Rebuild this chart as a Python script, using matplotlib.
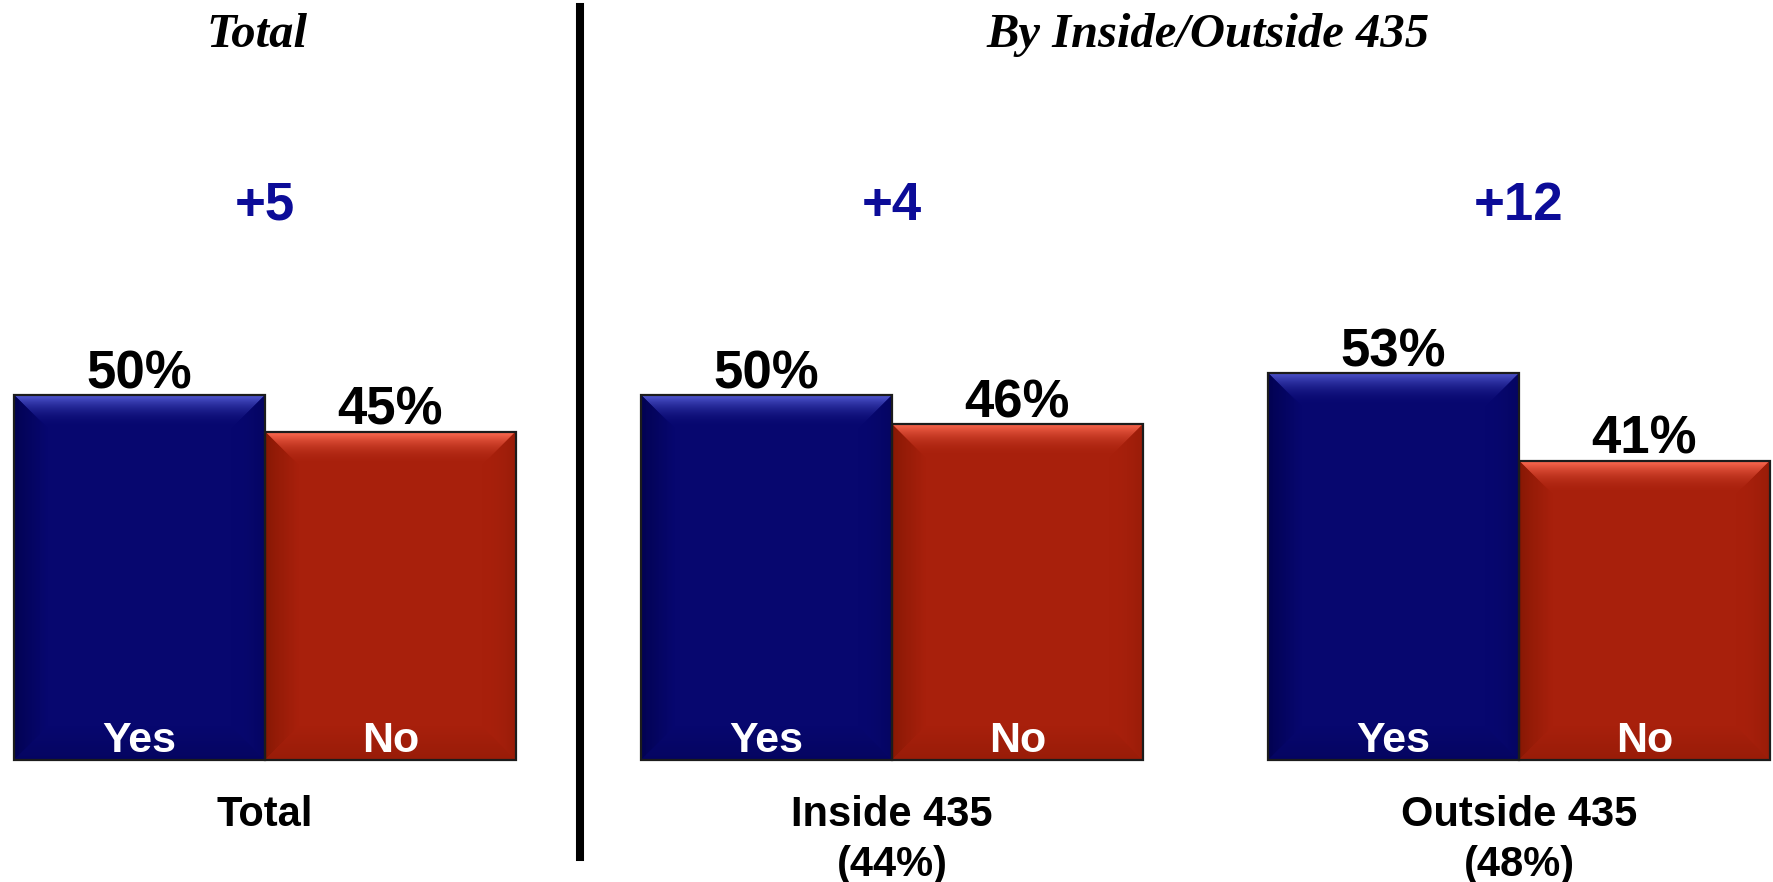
import numpy as np
import matplotlib
matplotlib.use('Agg')
import matplotlib.pyplot as plt
from matplotlib.patches import Polygon
from matplotlib.colors import to_rgb

# ---- data ----
groups = ['Total', 'Inside 435\n(44%)', 'Outside 435\n(48%)']
yes_vals = [50, 50, 53]
no_vals = [45, 46, 41]
diff_labels = ['+5', '+4', '+12']
series_names = ['Yes', 'No']
section_titles = ['Total', 'By Inside/Outside 435']

# ---- style ----
BLUE, BLUE_HI, BLUE_DK = '#07076f', '#5259d2', '#020250'
RED, RED_HI, RED_DK = '#a8200c', '#ff6b52', '#861804'
SANS = 'Liberation Sans'
SERIF = 'Liberation Serif'

fig = plt.figure(figsize=(17.73, 8.82), dpi=100)
ax = fig.add_axes([0, 0, 1, 1])
XLIM = (-0.4226, 2.405)
YLIM = (-16.71, 104.11)
ax.set_xlim(*XLIM)
ax.set_ylim(*YLIM)
ax.axis('off')

x = np.arange(len(groups))
w = 0.4
yes_bars = ax.bar(x - w / 2, yes_vals, w, color=BLUE, edgecolor='none', zorder=2)
no_bars = ax.bar(x + w / 2, no_vals, w, color=RED, edgecolor='none', zorder=2)


def mix(c1, c2, t):
    a = np.array(to_rgb(c1))
    b = np.array(to_rgb(c2))
    return tuple(a * (1 - t) + b * t)


def grad_img(c_from, c_to, n=64, power=1.0, vertical=True):
    a = np.array(to_rgb(c_from))
    b = np.array(to_rgb(c_to))
    t = np.linspace(0, 1, n) ** power
    cols = a[None, :] * (1 - t[:, None]) + b[None, :] * t[:, None]
    rgba = np.concatenate([cols, np.ones((n, 1))], axis=1)
    if vertical:
        return rgba[:, None, :]
    return rgba[None, :, :]


def bevel(bar, base, hi, dk, depth_px=34):
    p0 = ax.transData.transform((0, 0))
    p1 = ax.transData.transform((1, 1))
    dx = depth_px / (p1[0] - p0[0])
    dy = depth_px / (p1[1] - p0[1])
    x0, y0 = bar.get_x(), bar.get_y()
    x1, y1 = x0 + bar.get_width(), y0 + bar.get_height()
    soft_dk = mix(base, dk, 0.45)
    pieces = [
        ([(x0, y1), (x1, y1), (x1 - dx, y1 - dy), (x0 + dx, y1 - dy)],
         grad_img(base, hi, power=2.2, vertical=True), [x0, x1, y1 - dy, y1]),
        ([(x0, y0), (x0, y1), (x0 + dx, y1 - dy), (x0 + dx, y0 + dy)],
         grad_img(dk, base, power=0.8, vertical=False), [x0, x0 + dx, y0, y1]),
        ([(x1, y0), (x1, y1), (x1 - dx, y1 - dy), (x1 - dx, y0 + dy)],
         grad_img(base, soft_dk, power=2.0, vertical=False), [x1 - dx, x1, y0, y1]),
        ([(x0, y0), (x1, y0), (x1 - dx, y0 + dy), (x0 + dx, y0 + dy)],
         grad_img(soft_dk, base, power=1.0, vertical=True), [x0, x1, y0, y0 + dy]),
    ]
    for pts, img, ext in pieces:
        im = ax.imshow(img, extent=ext, origin='lower', aspect='auto',
                       interpolation='bilinear', zorder=3)
        poly = Polygon(pts, closed=True, transform=ax.transData)
        im.set_clip_path(poly)


for b in yes_bars:
    bevel(b, BLUE, BLUE_HI, BLUE_DK)
for b in no_bars:
    bevel(b, RED, RED_HI, RED_DK)

# outlines
ax.bar(x - w / 2, yes_vals, w, fill=False, edgecolor='#1c1c1c', linewidth=1.6, zorder=4)
ax.bar(x + w / 2, no_vals, w, fill=False, edgecolor='#1c1c1c', linewidth=1.6, zorder=4)

ax.set_xlim(*XLIM)
ax.set_ylim(*YLIM)

# value labels
for bars, vals in ((yes_bars, yes_vals), (no_bars, no_vals)):
    for b, v in zip(bars, vals):
        ax.annotate(f'{v}%', (b.get_x() + b.get_width() / 2, v), xytext=(0, 5),
                    textcoords='offset points', ha='center', va='baseline',
                    fontsize=38, fontweight='bold', family=SANS, color='black', zorder=5)

# series names inside bars
for bars, name in ((yes_bars, series_names[0]), (no_bars, series_names[1])):
    for b in bars:
        ax.annotate(name, (b.get_x() + b.get_width() / 2, 0), xytext=(0, 5.5),
                    textcoords='offset points', ha='center', va='baseline',
                    fontsize=31, fontweight='bold', family=SANS, color='white', zorder=5)

# differences
for xi, d in zip(x, diff_labels):
    ax.text(xi, 74.0, d, ha='center', va='baseline', fontsize=38, fontweight='bold',
            family=SANS, color='#0c0c98', zorder=5)

# category labels (one text per line, baselines 50 px apart)
line_step = 50 / 7.3
for xi, g in zip(x, groups):
    for k, line in enumerate(g.split('\n')):
        ax.text(xi, -9.05 - k * line_step, line, ha='center', va='baseline', fontsize=30,
                fontweight='bold', family=SANS, color='black', zorder=5, clip_on=False)

# section headers
ax.text(-0.013, 97.7, section_titles[0], ha='center', va='baseline', fontsize=35,
        fontweight='bold', style='italic', family=SERIF, color='black')
ax.text(1.504, 97.7, section_titles[1], ha='center', va='baseline', fontsize=35,
        fontweight='bold', style='italic', family=SERIF, color='black')

# divider
ax.axvline(0.502, ymin=1 - 857 / 882, ymax=1 - 7 / 882, color='black', linewidth=5.8, zorder=5)

fig.savefig('out.png', dpi=100, facecolor='white')
